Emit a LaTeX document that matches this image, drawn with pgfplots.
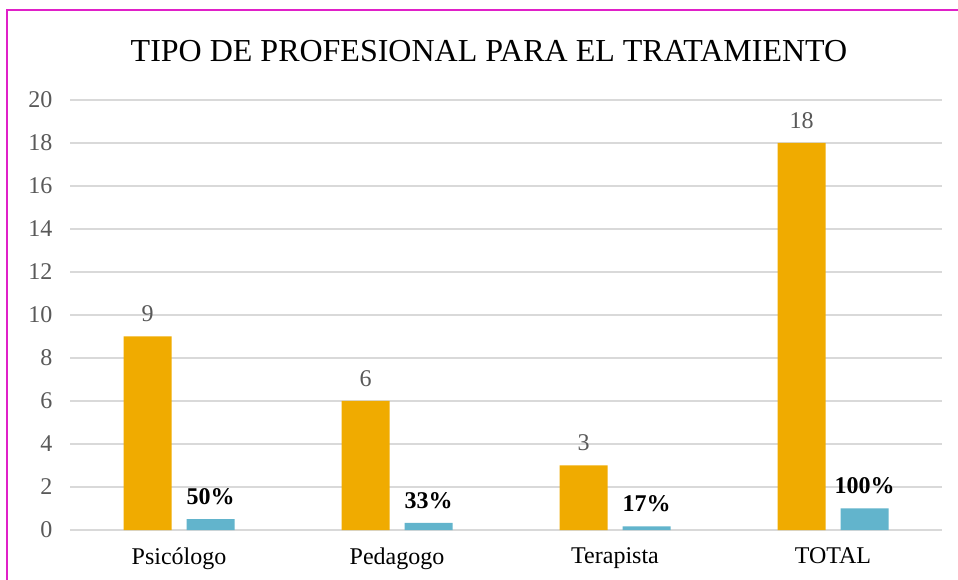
\documentclass[border=0pt]{standalone}
\usepackage{pgfplots}
\pgfplotsset{compat=1.18}
\usepackage{fontspec}
\setmainfont{Liberation Serif}
\definecolor{barorange}{HTML}{F0AB00}
\definecolor{barblue}{HTML}{62B4CC}
\definecolor{gridgray}{HTML}{D9D9D9}
\definecolor{ticktext}{HTML}{595959}
\definecolor{bordermag}{HTML}{E020C8}
\begin{document}
\begin{tikzpicture}
\path[use as bounding box] (0,0) rectangle (958bp,580bp);
\fill[white] (0,0) rectangle (958bp,580bp);
\draw[bordermag, line width=1.5bp] (7bp,-2bp) -- (7bp,570bp) -- (962bp,570bp);
\node[font=\fontsize{32bp}{38bp}\selectfont, anchor=base, inner sep=0pt] at (489bp,518bp) {TIPO DE PROFESIONAL PARA EL TRATAMIENTO};
\begin{axis}[
  at={(70bp,50bp)}, anchor=south west,
  scale only axis, width=872bp, height=430bp,
  xmin=-0.5, xmax=3.5, ymin=0, ymax=20,
  ytick={0,2,...,20},
  xtick={0,1,2,3},
  xticklabels={Psicólogo,Pedagogo,Terapista,TOTAL},
  axis line style={draw=none},
  ymajorgrids, grid style={gridgray, line width=1.2bp},
  major tick length=0pt,
  tick label style={font=\fontsize{24bp}{28bp}\selectfont},
  yticklabel style={text=ticktext, xshift=-14bp},
  xticklabel style={text=black, yshift=-14bp},
  /pgf/number format/assume math mode=true,
  ybar, bar width=48bp, clip=false,
]
\addplot[fill=barorange, draw=none, bar shift=-31.5bp,
  nodes near coords,
  nodes near coords style={text=ticktext, font=\fontsize{24bp}{28bp}\selectfont, anchor=south, yshift=11bp}]
  coordinates {(0,9) (1,6) (2,3) (3,18)};
\addplot[fill=barblue, draw=none, bar shift=31.5bp,
  point meta=explicit symbolic,
  nodes near coords,
  nodes near coords style={text=black, font=\bfseries\fontsize{24bp}{28bp}\selectfont, anchor=south, yshift=11bp}]
  coordinates {(0,0.5)[50\%] (1,0.33)[33\%] (2,0.17)[17\%] (3,1)[100\%]};
\end{axis}
\end{tikzpicture}
\end{document}
